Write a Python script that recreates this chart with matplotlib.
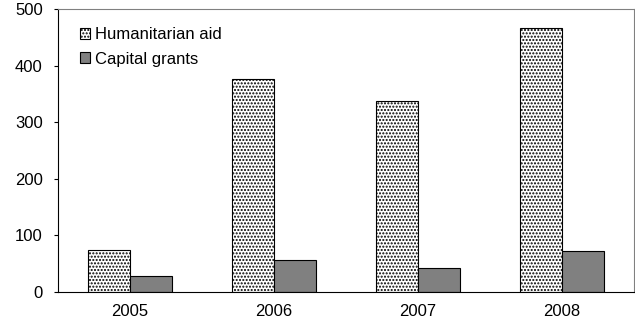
import numpy as np
import matplotlib.pyplot as plt

years = ['2005', '2006', '2007', '2008']
humanitarian = [75, 376, 337, 467]
capital = [29, 57, 43, 73]

plt.rcParams['font.family'] = ['Liberation Sans', 'DejaVu Sans']
plt.rcParams['hatch.color'] = '#666666'
plt.rcParams['hatch.linewidth'] = 1.0

fig = plt.figure(figsize=(6.35, 3.26), dpi=100)
ax = fig.add_axes([58 / 635, 34 / 326, 576 / 635, 283 / 326])

x = np.arange(len(years))
w = 0.29
ax.bar(x - w / 2, humanitarian, w, facecolor='white', edgecolor='black',
       linewidth=0.8, hatch='.....', label='Humanitarian aid')
ax.bar(x + w / 2, capital, w, facecolor='#808080', edgecolor='black',
       linewidth=0.8, label='Capital grants')

ax.set_xlim(-0.5, 3.5)
ax.set_ylim(0, 500)
ax.set_yticks([0, 100, 200, 300, 400, 500])
ax.set_xticks(x)
ax.set_xticklabels(years)
ax.tick_params(axis='x', length=0, labelsize=12, pad=9)
ax.tick_params(axis='y', direction='out', length=3, labelsize=12, pad=8)

for s in ['top', 'right']:
    ax.spines[s].set_color('#808080')
    ax.spines[s].set_linewidth(0.8)
ax.spines['left'].set_linewidth(0.8)
ax.spines['bottom'].set_linewidth(0.8)

ax.legend(loc='upper left', bbox_to_anchor=(0.02, 0.97), frameon=False,
          fontsize=12, handlelength=0.6, handleheight=0.6,
          handletextpad=0.3, labelspacing=0.55, borderaxespad=0.2)

fig.savefig('out.png', dpi=100)
